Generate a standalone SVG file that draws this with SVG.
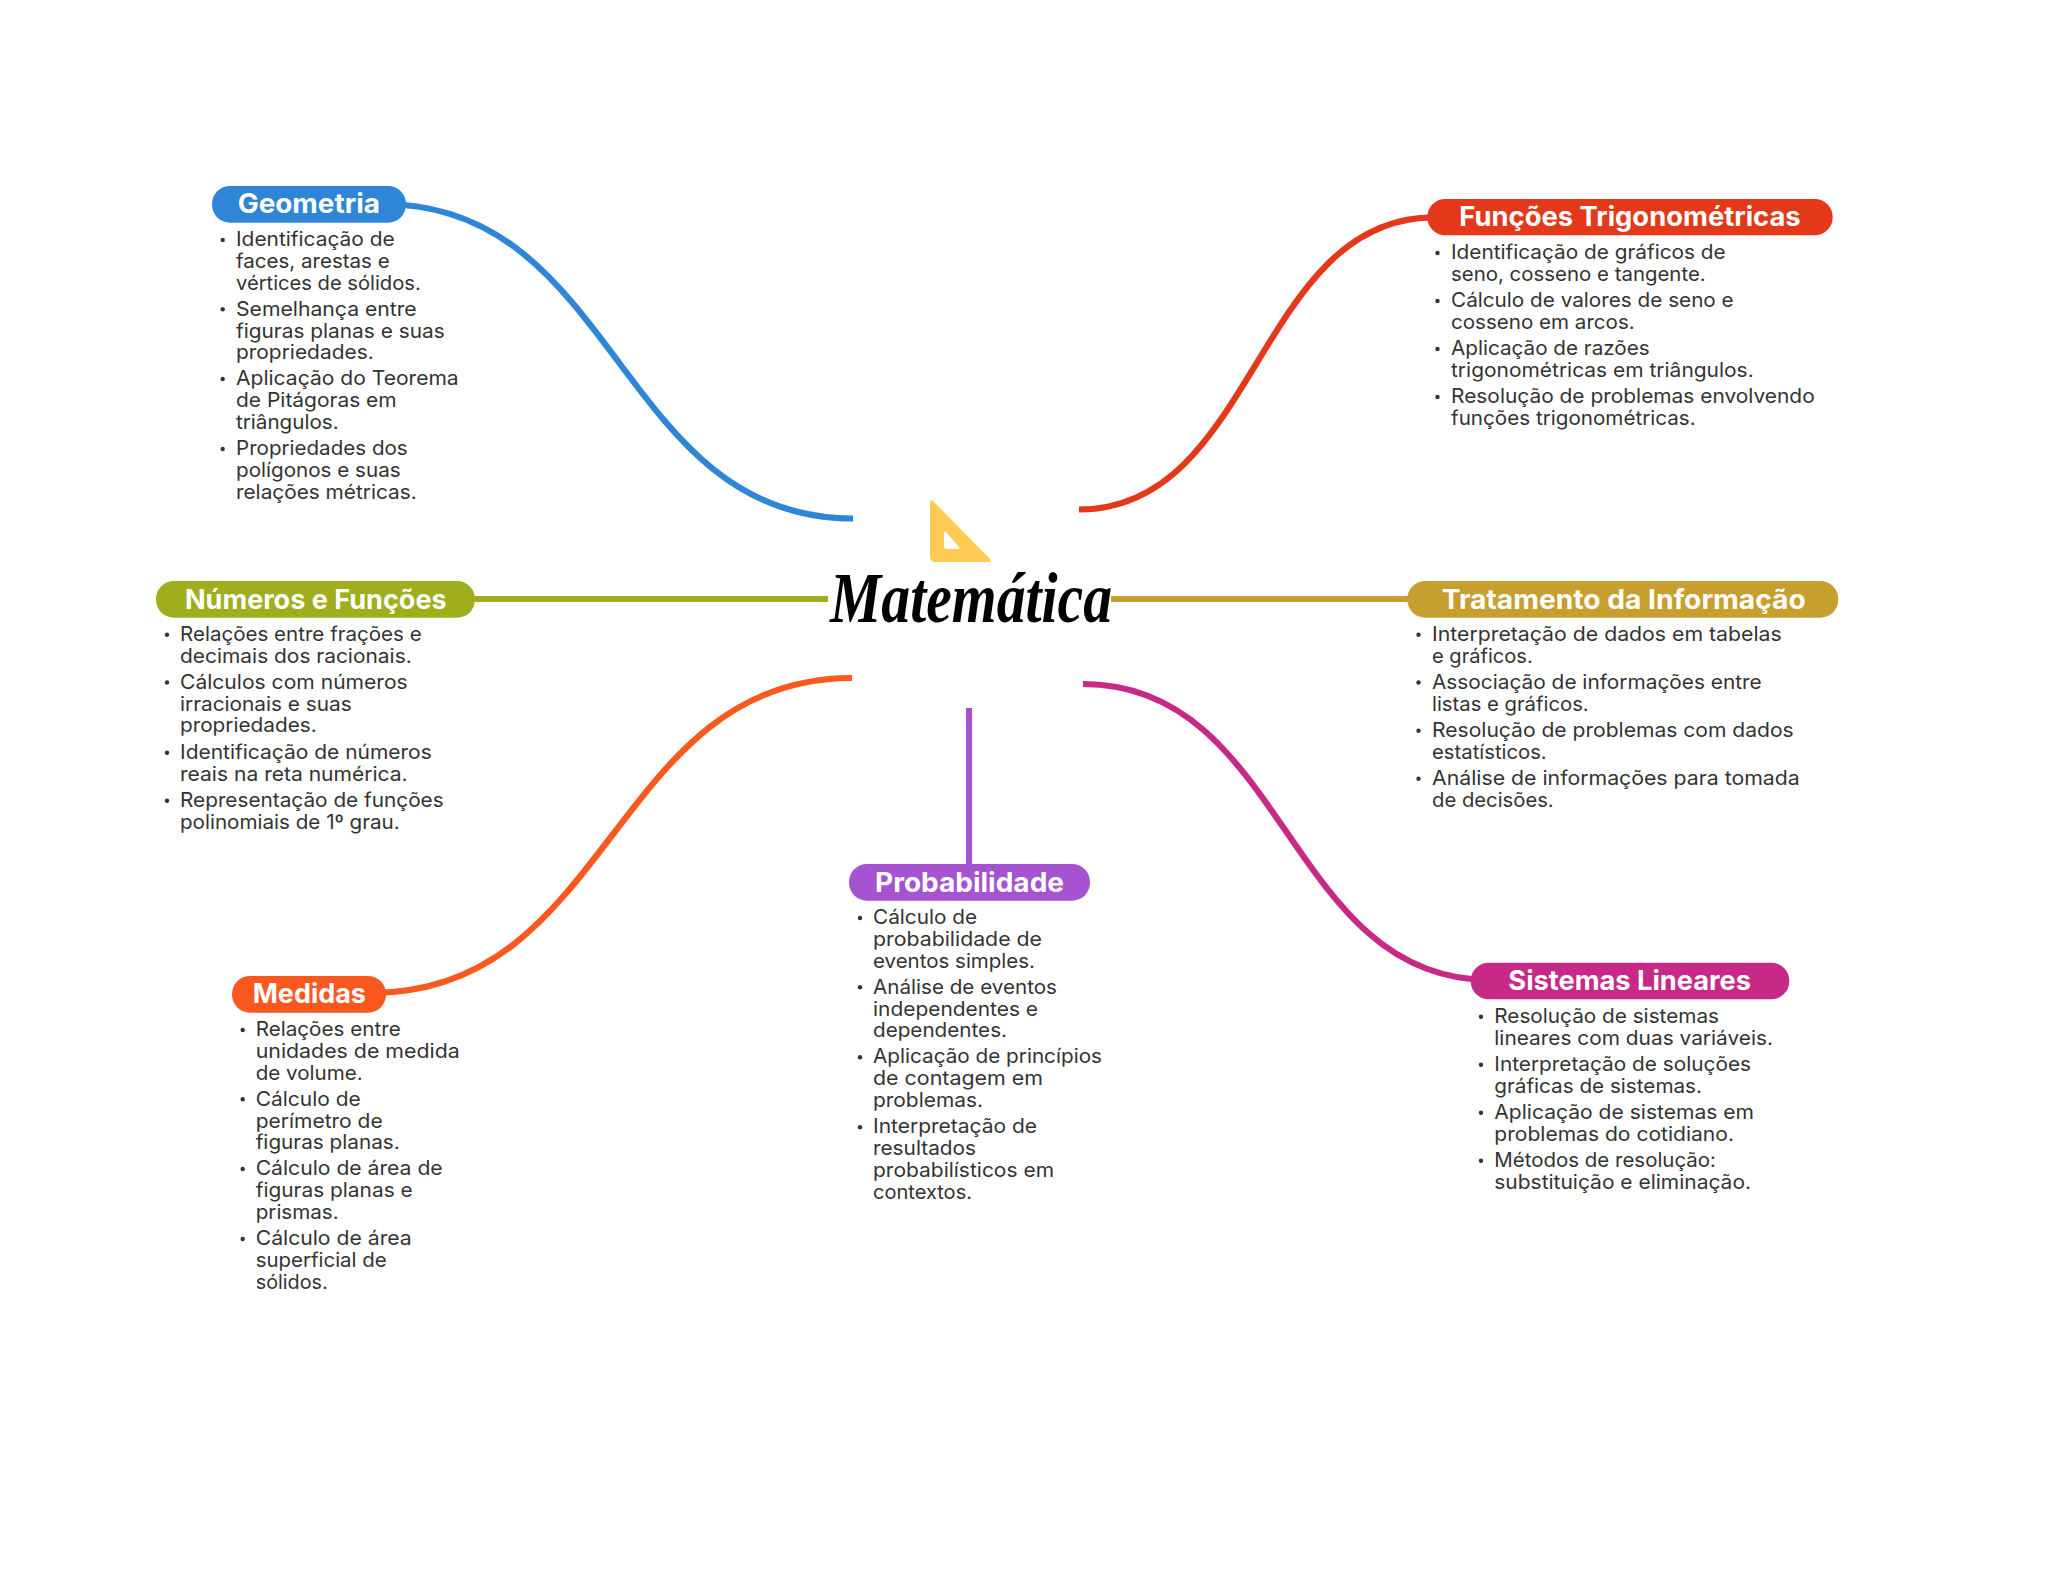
<svg xmlns="http://www.w3.org/2000/svg" width="2048" height="1569" viewBox="0 0 2048 1569">
<style>
.l{font-family:"Inter","Liberation Sans",sans-serif;font-size:20px;fill:#333}
.t{font-family:"Inter","Liberation Sans",sans-serif;font-size:27px;font-weight:700;fill:#fff}
.b{fill:#333}
.c{fill:none;stroke-width:6.2}
text{white-space:pre}
</style>
<rect width="2048" height="1569" fill="#fff"/>
<g id="connectors">
<path class="c" stroke="#2F86D6" d="M383 204C618 204 618 518.500 853 518.500"/>
<path class="c" stroke="#E4381A" d="M1079 509.500C1256.500 509.500 1256.500 217.300 1434 217.300"/>
<path class="c" stroke="#A0AD1C" d="M472 599H828"/>
<path class="c" stroke="#C69F2E" d="M1111 599H1410"/>
<path class="c" stroke="#F9591F" d="M852 678C612 678 612 993 372 993"/>
<path class="c" stroke="#A653D2" d="M969 708V866"/>
<path class="c" stroke="#C72A86" d="M1083 684C1286.500 684 1286.500 980 1490 980"/>
</g>
<g id="central">
<path d="M930 503Q930 498 934 502L989 558Q993 562 988 562H936Q930 562 930 556ZM944 534V546Q944 549 947 549H958Q961 549 959 547L947 533Q944 530 944 534Z" fill="#FFCB52" fill-rule="evenodd"/>
<text x="830" y="622" font-family="'Liberation Serif',serif" font-style="italic" font-weight="700" font-size="72" fill="#000" textLength="282" lengthAdjust="spacingAndGlyphs">Matemática</text>
</g>
<g id="node-geometria">
<rect x="212" y="186" width="194" height="36.700" rx="18" fill="#2F86D6"/>
<text class="t" x="237.700" y="213.300" textLength="142.300" lengthAdjust="spacingAndGlyphs">Geometria</text>
<circle class="b" cx="222.700" cy="240" r="2.200"/><circle class="b" cx="222.700" cy="309.300" r="2.200"/><circle class="b" cx="222.700" cy="379" r="2.200"/><circle class="b" cx="222.700" cy="449" r="2.200"/>
<text class="l" x="236" y="246" textLength="158.700" lengthAdjust="spacingAndGlyphs">Identificação de</text>
<text class="l" x="236" y="268" textLength="153.700" lengthAdjust="spacingAndGlyphs">faces, arestas e</text>
<text class="l" x="236" y="290" textLength="184.700" lengthAdjust="spacingAndGlyphs">vértices de sólidos.</text>
<text class="l" x="236" y="315.500" textLength="180.700" lengthAdjust="spacingAndGlyphs">Semelhança entre</text>
<text class="l" x="236" y="337.500" textLength="208.700" lengthAdjust="spacingAndGlyphs">figuras planas e suas</text>
<text class="l" x="236" y="359.300" textLength="137.700" lengthAdjust="spacingAndGlyphs">propriedades.</text>
<text class="l" x="236" y="385.300" textLength="222.700" lengthAdjust="spacingAndGlyphs">Aplicação do Teorema</text>
<text class="l" x="236" y="407" textLength="160.700" lengthAdjust="spacingAndGlyphs">de Pitágoras em</text>
<text class="l" x="236" y="429" textLength="102.700" lengthAdjust="spacingAndGlyphs">triângulos.</text>
<text class="l" x="236" y="455" textLength="171.700" lengthAdjust="spacingAndGlyphs">Propriedades dos</text>
<text class="l" x="236" y="477" textLength="164.700" lengthAdjust="spacingAndGlyphs">polígonos e suas</text>
<text class="l" x="236" y="498.700" textLength="180.700" lengthAdjust="spacingAndGlyphs">relações métricas.</text>
</g>
<g id="node-funcoes-trigonometricas">
<rect x="1427.300" y="199" width="405.400" height="36.300" rx="18" fill="#E4381A"/>
<text class="t" x="1459.300" y="226" textLength="341.400" lengthAdjust="spacingAndGlyphs">Funções Trigonométricas</text>
<circle class="b" cx="1437.500" cy="253" r="2.200"/><circle class="b" cx="1437.500" cy="301" r="2.200"/><circle class="b" cx="1437.500" cy="349" r="2.200"/><circle class="b" cx="1437.500" cy="397" r="2.200"/>
<text class="l" x="1451" y="259" textLength="274.700" lengthAdjust="spacingAndGlyphs">Identificação de gráficos de</text>
<text class="l" x="1451" y="281" textLength="254.700" lengthAdjust="spacingAndGlyphs">seno, cosseno e tangente.</text>
<text class="l" x="1451" y="307" textLength="282.700" lengthAdjust="spacingAndGlyphs">Cálculo de valores de seno e</text>
<text class="l" x="1451" y="329" textLength="183.700" lengthAdjust="spacingAndGlyphs">cosseno em arcos.</text>
<text class="l" x="1451" y="355" textLength="198.700" lengthAdjust="spacingAndGlyphs">Aplicação de razões</text>
<text class="l" x="1451" y="377" textLength="302.700" lengthAdjust="spacingAndGlyphs">trigonométricas em triângulos.</text>
<text class="l" x="1451" y="403" textLength="363.700" lengthAdjust="spacingAndGlyphs">Resolução de problemas envolvendo</text>
<text class="l" x="1451" y="425" textLength="244.700" lengthAdjust="spacingAndGlyphs">funções trigonométricas.</text>
</g>
<g id="node-numeros-e-funcoes">
<rect x="156" y="581" width="319" height="36.700" rx="18" fill="#A0AD1C"/>
<text class="t" x="185" y="608.700" textLength="261.700" lengthAdjust="spacingAndGlyphs">Números e Funções</text>
<circle class="b" cx="167" cy="634.700" r="2.200"/><circle class="b" cx="167" cy="682.500" r="2.200"/><circle class="b" cx="167" cy="752.700" r="2.200"/><circle class="b" cx="167" cy="800.700" r="2.200"/>
<text class="l" x="180" y="640.700" textLength="241.700" lengthAdjust="spacingAndGlyphs">Relações entre frações e</text>
<text class="l" x="180" y="662.700" textLength="231.700" lengthAdjust="spacingAndGlyphs">decimais dos racionais.</text>
<text class="l" x="180" y="688.700" textLength="227.700" lengthAdjust="spacingAndGlyphs">Cálculos com números</text>
<text class="l" x="180" y="710.500" textLength="171.700" lengthAdjust="spacingAndGlyphs">irracionais e suas</text>
<text class="l" x="180" y="732.300" textLength="136.700" lengthAdjust="spacingAndGlyphs">propriedades.</text>
<text class="l" x="180" y="758.700" textLength="251.700" lengthAdjust="spacingAndGlyphs">Identificação de números</text>
<text class="l" x="180" y="780.700" textLength="227.700" lengthAdjust="spacingAndGlyphs">reais na reta numérica.</text>
<text class="l" x="180" y="806.700" textLength="263.700" lengthAdjust="spacingAndGlyphs">Representação de funções</text>
<text class="l" x="180" y="828.700" textLength="219.700" lengthAdjust="spacingAndGlyphs">polinomiais de 1º grau.</text>
</g>
<g id="node-tratamento-da-informacao">
<rect x="1407.300" y="581" width="431" height="36.700" rx="18" fill="#C69F2E"/>
<text class="t" x="1441.700" y="608.700" textLength="364" lengthAdjust="spacingAndGlyphs">Tratamento da Informação</text>
<circle class="b" cx="1418.500" cy="634.700" r="2.200"/><circle class="b" cx="1418.500" cy="682.500" r="2.200"/><circle class="b" cx="1418.500" cy="730.700" r="2.200"/><circle class="b" cx="1418.500" cy="778.700" r="2.200"/>
<text class="l" x="1432" y="640.700" textLength="349.700" lengthAdjust="spacingAndGlyphs">Interpretação de dados em tabelas</text>
<text class="l" x="1432" y="662.700" textLength="100.700" lengthAdjust="spacingAndGlyphs">e gráficos.</text>
<text class="l" x="1432" y="688.700" textLength="329.700" lengthAdjust="spacingAndGlyphs">Associação de informações entre</text>
<text class="l" x="1432" y="710.700" textLength="156.700" lengthAdjust="spacingAndGlyphs">listas e gráficos.</text>
<text class="l" x="1432" y="736.700" textLength="361.700" lengthAdjust="spacingAndGlyphs">Resolução de problemas com dados</text>
<text class="l" x="1432" y="758.700" textLength="114.700" lengthAdjust="spacingAndGlyphs">estatísticos.</text>
<text class="l" x="1432" y="784.700" textLength="367.700" lengthAdjust="spacingAndGlyphs">Análise de informações para tomada</text>
<text class="l" x="1432" y="806.700" textLength="121.700" lengthAdjust="spacingAndGlyphs">de decisões.</text>
</g>
<g id="node-medidas">
<rect x="232" y="976" width="154" height="36.700" rx="18" fill="#F9591F"/>
<text class="t" x="252.700" y="1003.300" textLength="113.300" lengthAdjust="spacingAndGlyphs">Medidas</text>
<circle class="b" cx="242.700" cy="1030" r="2.200"/><circle class="b" cx="242.700" cy="1099.300" r="2.200"/><circle class="b" cx="242.700" cy="1169" r="2.200"/><circle class="b" cx="242.700" cy="1239" r="2.200"/>
<text class="l" x="255.700" y="1036" textLength="145" lengthAdjust="spacingAndGlyphs">Relações entre</text>
<text class="l" x="255.700" y="1058" textLength="204" lengthAdjust="spacingAndGlyphs">unidades de medida</text>
<text class="l" x="255.700" y="1079.700" textLength="107" lengthAdjust="spacingAndGlyphs">de volume.</text>
<text class="l" x="255.700" y="1105.700" textLength="105" lengthAdjust="spacingAndGlyphs">Cálculo de</text>
<text class="l" x="255.700" y="1127.500" textLength="127" lengthAdjust="spacingAndGlyphs">perímetro de</text>
<text class="l" x="255.700" y="1149" textLength="144" lengthAdjust="spacingAndGlyphs">figuras planas.</text>
<text class="l" x="255.700" y="1175" textLength="187" lengthAdjust="spacingAndGlyphs">Cálculo de área de</text>
<text class="l" x="255.700" y="1197" textLength="157" lengthAdjust="spacingAndGlyphs">figuras planas e</text>
<text class="l" x="255.700" y="1219" textLength="83" lengthAdjust="spacingAndGlyphs">prismas.</text>
<text class="l" x="255.700" y="1245" textLength="156" lengthAdjust="spacingAndGlyphs">Cálculo de área</text>
<text class="l" x="255.700" y="1267" textLength="131" lengthAdjust="spacingAndGlyphs">superficial de</text>
<text class="l" x="255.700" y="1288.700" textLength="72" lengthAdjust="spacingAndGlyphs">sólidos.</text>
</g>
<g id="node-probabilidade">
<rect x="849" y="864" width="241" height="36.700" rx="18" fill="#A653D2"/>
<text class="t" x="875" y="891.700" textLength="189" lengthAdjust="spacingAndGlyphs">Probabilidade</text>
<circle class="b" cx="860" cy="918" r="2.200"/><circle class="b" cx="860" cy="987.300" r="2.200"/><circle class="b" cx="860" cy="1057.300" r="2.200"/><circle class="b" cx="860" cy="1127.300" r="2.200"/>
<text class="l" x="873" y="924.300" textLength="104" lengthAdjust="spacingAndGlyphs">Cálculo de</text>
<text class="l" x="873" y="946" textLength="169" lengthAdjust="spacingAndGlyphs">probabilidade de</text>
<text class="l" x="873" y="967.700" textLength="162" lengthAdjust="spacingAndGlyphs">eventos simples.</text>
<text class="l" x="873" y="993.700" textLength="184" lengthAdjust="spacingAndGlyphs">Análise de eventos</text>
<text class="l" x="873" y="1015.500" textLength="165" lengthAdjust="spacingAndGlyphs">independentes e</text>
<text class="l" x="873" y="1037" textLength="134" lengthAdjust="spacingAndGlyphs">dependentes.</text>
<text class="l" x="873" y="1063.300" textLength="229" lengthAdjust="spacingAndGlyphs">Aplicação de princípios</text>
<text class="l" x="873" y="1085" textLength="170" lengthAdjust="spacingAndGlyphs">de contagem em</text>
<text class="l" x="873" y="1107" textLength="110" lengthAdjust="spacingAndGlyphs">problemas.</text>
<text class="l" x="873" y="1133.300" textLength="164" lengthAdjust="spacingAndGlyphs">Interpretação de</text>
<text class="l" x="873" y="1155" textLength="103" lengthAdjust="spacingAndGlyphs">resultados</text>
<text class="l" x="873" y="1177" textLength="181" lengthAdjust="spacingAndGlyphs">probabilísticos em</text>
<text class="l" x="873" y="1199" textLength="99" lengthAdjust="spacingAndGlyphs">contextos.</text>
</g>
<g id="node-sistemas-lineares">
<rect x="1470.700" y="962.700" width="318.600" height="36.600" rx="18" fill="#C72A86"/>
<text class="t" x="1508.300" y="990.300" textLength="242.700" lengthAdjust="spacingAndGlyphs">Sistemas Lineares</text>
<circle class="b" cx="1481" cy="1016.700" r="2.200"/><circle class="b" cx="1481" cy="1064.700" r="2.200"/><circle class="b" cx="1481" cy="1112.700" r="2.200"/><circle class="b" cx="1481" cy="1160.700" r="2.200"/>
<text class="l" x="1494.300" y="1022.700" textLength="224.700" lengthAdjust="spacingAndGlyphs">Resolução de sistemas</text>
<text class="l" x="1494.300" y="1044.700" textLength="278.700" lengthAdjust="spacingAndGlyphs">lineares com duas variáveis.</text>
<text class="l" x="1494.300" y="1070.700" textLength="256.700" lengthAdjust="spacingAndGlyphs">Interpretação de soluções</text>
<text class="l" x="1494.300" y="1092.700" textLength="207.700" lengthAdjust="spacingAndGlyphs">gráficas de sistemas.</text>
<text class="l" x="1494.300" y="1118.700" textLength="259.700" lengthAdjust="spacingAndGlyphs">Aplicação de sistemas em</text>
<text class="l" x="1494.300" y="1140.700" textLength="239.700" lengthAdjust="spacingAndGlyphs">problemas do cotidiano.</text>
<text class="l" x="1494.300" y="1166.700" textLength="221.700" lengthAdjust="spacingAndGlyphs">Métodos de resolução:</text>
<text class="l" x="1494.300" y="1188.700" textLength="256.700" lengthAdjust="spacingAndGlyphs">substituição e eliminação.</text>
</g>
</svg>
